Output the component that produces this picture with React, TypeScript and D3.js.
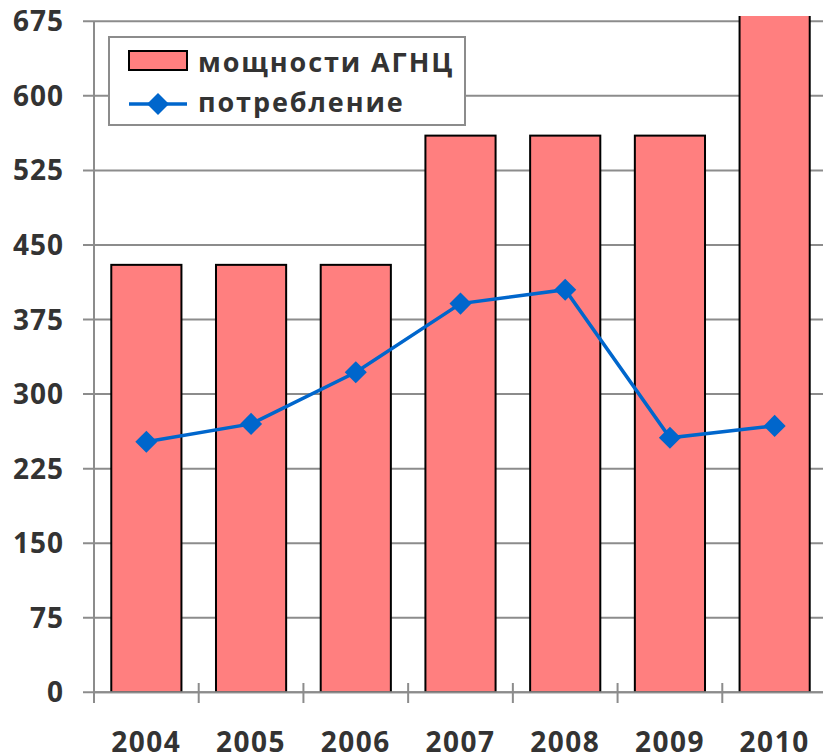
import * as d3 from "d3";

const years = ["2004", "2005", "2006", "2007", "2008", "2009", "2010"];
const capacity = [430, 430, 430, 560, 560, 560, 690];
const consumption = [252, 270, 322, 391, 405, 256, 268];
const yTicks = [0, 75, 150, 225, 300, 375, 450, 525, 600, 675];

const W = 823;
const H = 755;
const left = 94;
const right = 827;
const top = 21.3;
const bottom = 692.3;
const clipTop = 16;

const FONT = "'Open Sans', 'Noto Sans', sans-serif";
const INK = "#333333";
const GRID = "#8c8c8c";

export default function App() {
  const x = d3.scaleBand<string>().domain(years).range([left, right]).paddingInner(0.33).paddingOuter(0.165);
  const band = d3.scaleBand<string>().domain(years).range([left, right]);
  const y = d3.scaleLinear().domain([0, 675]).range([bottom, top]);

  const line = d3
    .line<number>()
    .x((_, i) => (band(years[i]) ?? 0) + band.bandwidth() / 2)
    .y((d) => y(d));

  const diamond = d3.symbol().type(d3.symbolDiamond2).size(310)();

  return (
    <svg width={W} height={H} viewBox={`0 0 ${W} ${H}`} style={{ position: "absolute", left: 0, top: 0, background: "#fff" }}>
      <defs>
        <clipPath id="plot">
          <rect x={left} y={clipTop} width={right - left} height={bottom - clipTop} />
        </clipPath>
      </defs>

      {/* gridlines + y ticks */}
      {yTicks.map((t) => (
        <g key={t}>
          <line x1={83} x2={W} y1={y(t)} y2={y(t)} stroke={GRID} strokeWidth={2} />
          <text
            x={64}
            y={y(t)}
            dy="0.36em"
            textAnchor="end"
            fontFamily={FONT}
            fontWeight={700}
            fontSize={28}
            letterSpacing={1}
            fill={INK}
          >
            {t}
          </text>
        </g>
      ))}

      {/* bars */}
      <g clipPath="url(#plot)">
        {capacity.map((v, i) => (
          <rect
            key={years[i]}
            x={x(years[i])}
            y={y(v)}
            width={x.bandwidth()}
            height={bottom - y(v)}
            fill="#ff7f7f"
            stroke="#000"
            strokeWidth={2}
          />
        ))}
      </g>

      {/* axes */}
      <line x1={left} x2={left} y1={top} y2={703} stroke={GRID} strokeWidth={2} />
      <line x1={left} x2={W} y1={bottom} y2={bottom} stroke={GRID} strokeWidth={2} />
      {years.map((yr) => (
        <line key={yr} x1={band(yr)} x2={band(yr)} y1={683} y2={703} stroke={GRID} strokeWidth={2} />
      ))}
      {years.map((yr) => (
        <text
          key={yr}
          x={(band(yr) ?? 0) + band.bandwidth() / 2}
          y={752}
          textAnchor="middle"
          fontFamily={FONT}
          fontWeight={700}
          fontSize={28}
          letterSpacing={1.5}
          fill={INK}
        >
          {yr}
        </text>
      ))}

      {/* consumption line */}
      <path d={line(consumption) ?? ""} fill="none" stroke="#0066cc" strokeWidth={3.5} />
      {consumption.map((v, i) => (
        <path
          key={years[i]}
          d={diamond ?? ""}
          transform={`translate(${(band(years[i]) ?? 0) + band.bandwidth() / 2},${y(v)})`}
          fill="#0066cc"
        />
      ))}

      {/* legend */}
      <rect x={109} y={37} width={356} height={88} fill="#fff" stroke={GRID} strokeWidth={2} />
      <rect x={129} y={51} width={58} height={19} fill="#ff7f7f" stroke="#000" strokeWidth={2} />
      <text x={198} y={72} fontFamily={FONT} fontWeight={700} fontSize={27} letterSpacing={1.9} fill={INK}>
        мощности АГНЦ
      </text>
      <line x1={129} x2={187} y1={104} y2={104} stroke="#0066cc" strokeWidth={3.5} />
      <path d={diamond ?? ""} transform="translate(158,104)" fill="#0066cc" />
      <text x={198} y={112} fontFamily={FONT} fontWeight={700} fontSize={27} letterSpacing={1.9} fill={INK}>
        потребление
      </text>
    </svg>
  );
}
